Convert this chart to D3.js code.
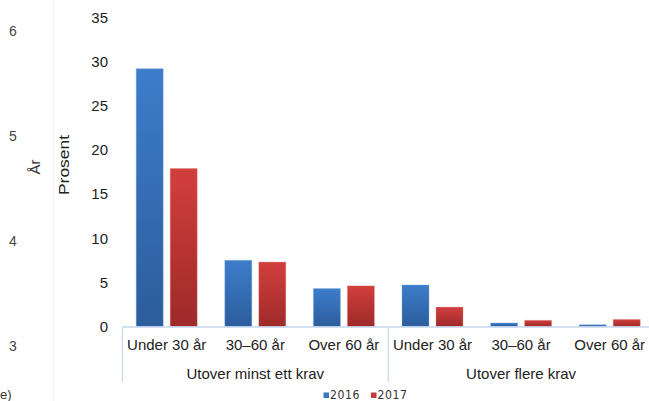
<!DOCTYPE html>
<html>
<head>
<meta charset="utf-8">
<script src="https://cdn.jsdelivr.net/npm/d3@7"></script>
<style>
  html, body { margin: 0; padding: 0; background: #fff; }
  svg { display: block; font-family: "Liberation Sans", Arial, sans-serif; }
</style>
</head>
<body>
<svg id="chart" width="649" height="401"></svg>
<script>
// Share of people exceeding requirements, by age group and year
const groups = ["Utover minst ett krav", "Utover flere krav"];
const ageGroups = ["Under 30 år", "30–60 år", "Over 60 år"];
const years = ["2016", "2017"];
const values2016 = [29.2, 7.5, 4.3, 4.7, 0.4, 0.2];
const values2017 = [17.9, 7.3, 4.6, 2.2, 0.7, 0.8];
const yTicks = [0, 5, 10, 15, 20, 25, 30, 35];
// stray labels from a neighbouring panel
const sideTicks = ["6", "5", "4", "3"];

const svg = d3.select("#chart");
const W = 649, H = 401;

const cells = [];
groups.forEach((g, gi) => ageGroups.forEach((a, ai) => {
  const i = gi * ageGroups.length + ai;
  cells.push({ key: g + "|" + a, group: g, age: a, v: [values2016[i], values2017[i]] });
}));

const x0 = d3.scaleBand().domain(cells.map(d => d.key)).range([122.4, 654]).padding(0);
const pad = 13.8;
const x1 = d3.scaleBand().domain(years).range([pad, x0.bandwidth() - pad]).paddingInner(0.206).paddingOuter(0);
const y = d3.scaleLinear().domain([0, 35]).range([326.5, 17.5]);

// gradients for bars
const defs = svg.append("defs");
const grads = [
  { id: "g2016", top: "#3d7dcb", bot: "#2c5d9c" },
  { id: "g2017", top: "#d23f3d", bot: "#9e2a29" }
];
grads.forEach(g => {
  const lg = defs.append("linearGradient").attr("id", g.id).attr("x1", 0).attr("y1", 0).attr("x2", 0).attr("y2", 1);
  lg.append("stop").attr("offset", "0%").attr("stop-color", g.top);
  lg.append("stop").attr("offset", "100%").attr("stop-color", g.bot);
});
const legendColor = { "2016": "#3a76c4", "2017": "#c73a38" };

// faint separator on the left
svg.append("line").attr("x1", 53.5).attr("x2", 53.5).attr("y1", 0).attr("y2", H)
  .attr("stroke", "#f1f1f1").attr("stroke-width", 1);

// stray left labels
const sideY = [31, 136, 241, 346];
svg.selectAll("text.side").data(sideTicks).join("text")
  .attr("class", "side")
  .attr("x", 13).attr("y", (d, i) => sideY[i] + 5)
  .attr("text-anchor", "middle")
  .attr("font-size", 14).attr("fill", "#444")
  .text(d => d);

svg.append("text").attr("x", 0).attr("y", 399).attr("font-size", 13).attr("fill", "#333").text("e)");

svg.append("text")
  .attr("transform", "translate(40,167) rotate(-90)")
  .attr("text-anchor", "middle").attr("font-size", 15).attr("fill", "#333")
  .text("År");

svg.append("text")
  .attr("transform", "translate(69,165) rotate(-90)")
  .attr("text-anchor", "middle").attr("font-size", 15).attr("fill", "#222")
  .attr("textLength", 60).attr("lengthAdjust", "spacingAndGlyphs")
  .text("Prosent");

// y axis (labels only)
const yAxis = d3.axisLeft(y).tickValues(yTicks).tickSize(0).tickPadding(0);
const yg = svg.append("g").attr("transform", "translate(108,0)").call(yAxis);
yg.select(".domain").remove();
yg.selectAll("text").attr("font-size", 15).attr("fill", "#222")
  .attr("font-family", "Liberation Sans, Arial, sans-serif");

// bars
const cg = svg.append("g").selectAll("g").data(cells).join("g")
  .attr("transform", d => `translate(${x0(d.key)},0)`);
cg.selectAll("rect").data(d => years.map((yr, k) => ({ yr, v: d.v[k] }))).join("rect")
  .attr("x", d => x1(d.yr))
  .attr("width", x1.bandwidth())
  .attr("y", d => y(d.v))
  .attr("height", d => y(0) - y(d.v))
  .attr("fill", d => `url(#g${d.yr})`)
  .attr("stroke", d => d.yr === "2016" ? "#7fa9de" : "#e08a88")
  .attr("stroke-opacity", 0.35)
  .attr("stroke-width", 1);

// category axis
const axisColor = "#c5d7ee";
const base = y(0) + 0.5;
svg.append("line").attr("x1", 122.4).attr("x2", W).attr("y1", base).attr("y2", base)
  .attr("stroke", axisColor).attr("stroke-width", 1.5);
const groupEdges = [x0(cells[0].key), x0(cells[3].key)];
svg.selectAll("line.sep").data(groupEdges).join("line")
  .attr("class", "sep")
  .attr("x1", d => d).attr("x2", d => d)
  .attr("y1", base).attr("y2", 382)
  .attr("stroke", axisColor).attr("stroke-width", 1.2);

svg.selectAll("text.cat").data(cells).join("text")
  .attr("class", "cat")
  .attr("x", d => x0(d.key) + x0.bandwidth() / 2)
  .attr("y", 349.5)
  .attr("text-anchor", "middle").attr("font-size", 15).attr("fill", "#222")
  .text(d => d.age);

svg.selectAll("text.grp").data(groups).join("text")
  .attr("class", "grp")
  .attr("x", (g, gi) => {
    const a = x0(cells[gi * 3].key), b = x0(cells[gi * 3 + 2].key) + x0.bandwidth();
    return (a + b) / 2;
  })
  .attr("y", 378.5)
  .attr("text-anchor", "middle").attr("font-size", 15).attr("fill", "#222")
  .text(d => d);

// legend
const legX = [323.5, 371];
const lg = svg.append("g").selectAll("g").data(years).join("g")
  .attr("transform", (d, i) => `translate(${legX[i]},392.5)`);
lg.append("rect").attr("width", 5.5).attr("height", 5.5).attr("fill", d => legendColor[d]);
lg.append("text").attr("x", 6.5).attr("y", 6.5)
  .attr("font-size", 12).attr("fill", "#333").attr("letter-spacing", 0.6)
  .attr("font-family", "DejaVu Sans, sans-serif")
  .attr("textLength", 30).attr("lengthAdjust", "spacingAndGlyphs")
  .text(d => d);
</script>
</body>
</html>
